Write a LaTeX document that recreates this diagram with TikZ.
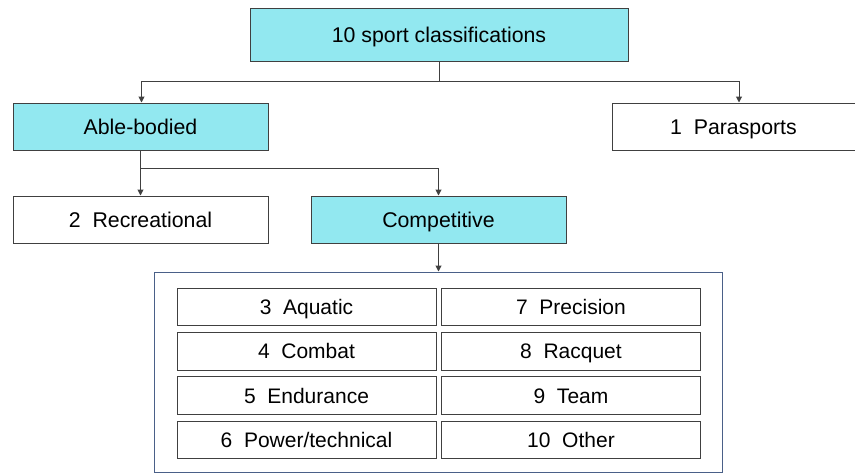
\documentclass[tikz,border=0pt]{standalone}
\usepackage{fontspec}
\setmainfont{Liberation Sans}
\usetikzlibrary{arrows.meta}
\definecolor{cyanfill}{HTML}{92E8F0}
\definecolor{lineg}{HTML}{404040}
\definecolor{frameblue}{HTML}{4A6088}
\begin{document}
\begin{tikzpicture}[x=1pt,y=-1pt,
  box/.style={draw=lineg,line width=1pt,inner sep=0pt,text height=15.5pt,text depth=0pt,font=\fontsize{21.3}{24}\selectfont},
  cbox/.style={box,fill=cyanfill},
  ibox/.style={draw=lineg,line width=0.8pt,inner sep=0pt,minimum width=259pt,minimum height=37.5pt,text height=15pt,text depth=0pt,font=\fontsize{21}{24}\selectfont},
  conn/.style={draw=lineg,line width=1pt,-{Triangle[length=6pt,width=6pt]}}]
\useasboundingbox (0,0) rectangle (855,474);
\node[cbox,minimum width=378pt,minimum height=53pt] (top) at (439,34.5) {10 sport classifications};
\node[cbox,minimum width=255pt,minimum height=47pt] (able) at (140.5,126.5) {Able-bodied};
\node[box,minimum width=243pt,minimum height=47pt] (para) at (733.5,126.5) {1\ \ Parasports};
\node[box,minimum width=255pt,minimum height=47pt] (rec) at (140.5,219.5) {2\ \ Recreational};
\node[cbox,minimum width=255pt,minimum height=47pt] (comp) at (438.5,219.5) {Competitive};
\node[draw=frameblue,line width=1pt,minimum width=568pt,minimum height=200pt,inner sep=0pt] (frame) at (438,372) {};
\node[ibox] (a3) at (306.5,307) {3\ \ Aquatic};
\node[ibox] (a4) at (306.5,351.2) {4\ \ Combat};
\node[ibox] (a5) at (306.5,395.5) {5\ \ Endurance};
\node[ibox] (a6) at (306.5,439.8) {6\ \ Power/technical};
\node[ibox] (a7) at (571,307) {7\ \ Precision};
\node[ibox] (a8) at (571,351.2) {8\ \ Racquet};
\node[ibox] (a9) at (571,395.5) {9\ \ Team};
\node[ibox] (a10) at (571,439.8) {10\ \ Other};
\coordinate (j1) at (439,81);
\coordinate (j2) at (140.5,168);
\draw[draw=lineg,line width=1pt] (top.south) -- (j1);
\draw[conn] (j1) -| ([xshift=1pt]able.north);
\draw[conn] (j1) -| ([xshift=5.5pt]para.north);
\draw[draw=lineg,line width=1pt] (able.south) -- (j2);
\draw[conn] (j2) -- (rec.north -| j2);
\draw[conn] (j2) -| (comp.north);
\draw[conn] (comp.south) -- (frame.north -| comp.south);
\end{tikzpicture}
\end{document}
